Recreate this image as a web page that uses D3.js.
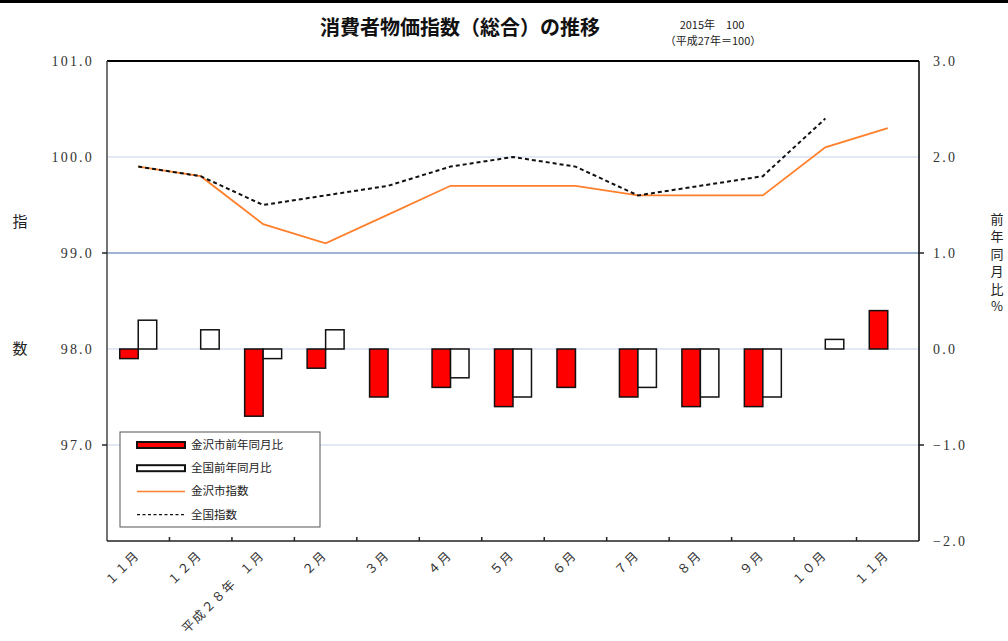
<!DOCTYPE html>
<html>
<head>
<meta charset="utf-8">
<script src="https://cdn.jsdelivr.net/npm/d3@7"></script>
<style>
  body { margin: 0; background: #fff; }
  svg { display: block; }
</style>
</head>
<body>
<svg id="viz"></svg>
<script>
/* Data */

const categories = ["１１月", "１２月", "１月", "２月", "３月", "４月", "５月", "６月", "７月", "８月", "９月", "１０月", "１１月"];
const yearLabels = ["", "", "平成２８年", "", "", "", "", "", "", "", "", "", ""];

const kanazawaIndex = [99.9, 99.8, 99.3, 99.1, 99.4, 99.7, 99.7, 99.7, 99.6, 99.6, 99.6, 100.1, 100.3];
const nationalIndex = [99.9, 99.8, 99.5, 99.6, 99.7, 99.9, 100.0, 99.9, 99.6, 99.7, 99.8, 100.4, null];

const kanazawaYoY = [-0.1, 0.0, -0.7, -0.2, -0.5, -0.4, -0.6, -0.4, -0.5, -0.6, -0.6, 0.0, 0.4];
const nationalYoY = [0.3, 0.2, -0.1, 0.2, 0.0, -0.3, -0.5, 0.0, -0.4, -0.5, -0.5, 0.1, null];

const leftTicks = [101, 100, 99, 98, 97];
const rightTicks = [3, 2, 1, 0, -1, -2];

const seriesNames = ["金沢市前年同月比", "全国前年同月比", "金沢市指数", "全国指数"];

/* Environment */

const width = 1008;
const height = 641;
const plot = {left: 107, right: 919, top: 61, bottom: 541};

const jp = "'Noto Sans CJK JP', 'Noto Sans', sans-serif";
const num = "'Liberation Serif', 'DejaVu Serif', serif";

const svg = d3.select('#viz')
    .attr('width', width)
    .attr('height', height);

/* Scales */

let x = d3.scaleBand()
    .domain(d3.range(categories.length))
    .range([plot.left, plot.right])
    .padding(0);

let yL = d3.scaleLinear().domain([96, 101]).range([plot.bottom, plot.top]);
let yR = d3.scaleLinear().domain([-2, 3]).range([plot.bottom, plot.top]);

const cx = i => x(i) + x.bandwidth() / 2;
const barW = x.bandwidth() * 0.296;

/* Layers */

let gGrid = svg.append("g");
let gBars = svg.append("g");
let gLines = svg.append("g");
let gFrame = svg.append("g");
let gAxes = svg.append("g");
let gLegend = svg.append("g");
let gText = svg.append("g");

/* Top border */

svg.append("line")
    .attr("x1", 0).attr("x2", width)
    .attr("y1", 1.5).attr("y2", 1.5)
    .attr("stroke", "#000").attr("stroke-width", 3);

/* Grid */

gGrid.selectAll("line")
    .data([100, 99, 98, 97])
    .enter().append("line")
    .attr("x1", plot.left).attr("x2", plot.right)
    .attr("y1", d => yL(d)).attr("y2", d => yL(d))
    .attr("stroke", d => d === 99 ? "#9fb3d3" : "#c6d4ec")
    .attr("stroke-width", d => d === 99 ? 2 : 1.2);

/* Bars */

function drawBars(values, offset, fill) {
  gBars.append("g")
      .selectAll("rect")
      .data(values.map((v, i) => ({v, i})).filter(d => d.v !== null && d.v !== 0))
      .enter().append("rect")
      .attr("x", d => cx(d.i) + offset)
      .attr("width", barW)
      .attr("y", d => Math.min(yR(d.v), yR(0)))
      .attr("height", d => Math.abs(yR(d.v) - yR(0)))
      .attr("fill", fill)
      .attr("stroke", "#111")
      .attr("stroke-width", 1.5);
}

drawBars(kanazawaYoY, -barW, "#ff0000");
drawBars(nationalYoY, 0, "#ffffff");

/* Lines */

let line = d3.line()
    .defined(d => d.v !== null)
    .x(d => cx(d.i))
    .y(d => yL(d.v));

gLines.append("path")
    .attr("d", line(kanazawaIndex.map((v, i) => ({v, i}))))
    .attr("fill", "none")
    .attr("stroke", "#ff7f2a")
    .attr("stroke-width", 1.8);

gLines.append("path")
    .attr("d", line(nationalIndex.map((v, i) => ({v, i}))))
    .attr("fill", "none")
    .attr("stroke", "#111")
    .attr("stroke-width", 2)
    .attr("stroke-dasharray", "4,3");

/* Frame */

gFrame.append("line")
    .attr("x1", plot.left).attr("x2", plot.right)
    .attr("y1", plot.top).attr("y2", plot.top)
    .attr("stroke", "#000").attr("stroke-width", 2);
gFrame.append("line")
    .attr("x1", plot.right).attr("x2", plot.right)
    .attr("y1", plot.top).attr("y2", plot.bottom)
    .attr("stroke", "#000").attr("stroke-width", 1.5);
gFrame.append("line")
    .attr("x1", plot.left).attr("x2", plot.left)
    .attr("y1", plot.top).attr("y2", plot.bottom)
    .attr("stroke", "#444").attr("stroke-width", 1.5);
gFrame.append("line")
    .attr("x1", plot.left).attr("x2", plot.right)
    .attr("y1", plot.bottom).attr("y2", plot.bottom)
    .attr("stroke", "#222").attr("stroke-width", 1.5);

/* Axes */

const gLeft = gAxes.append("g")
    .attr("transform", `translate(${plot.left},0)`)
    .call(d3.axisLeft(yL).tickValues(leftTicks).tickFormat(d3.format(".1f")).tickSize(0).tickPadding(13))
    .call(g => g.select(".domain").remove());

gLeft.selectAll("text")
    .attr("font-family", num).attr("font-size", 14)
    .attr("letter-spacing", 2.2).attr("fill", "#333");

gAxes.append("g")
    .selectAll("line")
    .data([99, 97])
    .enter().append("line")
    .attr("x1", plot.left - 5).attr("x2", plot.left)
    .attr("y1", d => yL(d)).attr("y2", d => yL(d))
    .attr("stroke", "#222").attr("stroke-width", 1.5);

const gRight = gAxes.append("g")
    .attr("transform", `translate(${plot.right},0)`)
    .call(d3.axisRight(yR).tickValues(rightTicks).tickFormat(d3.format(".1f")).tickSize(0).tickPadding(14))
    .call(g => g.select(".domain").remove());

gRight.selectAll("text")
    .attr("font-family", num).attr("font-size", 14)
    .attr("letter-spacing", 2.2).attr("fill", "#333");

gAxes.append("g")
    .selectAll("line")
    .data([1, -1])
    .enter().append("line")
    .attr("x1", plot.right).attr("x2", plot.right + 5)
    .attr("y1", d => yR(d)).attr("y2", d => yR(d))
    .attr("stroke", "#222").attr("stroke-width", 1.5);

// category ticks point up into the plot
gAxes.append("g")
    .selectAll("line")
    .data(d3.range(1, categories.length))
    .enter().append("line")
    .attr("x1", d => x(d)).attr("x2", d => x(d))
    .attr("y1", plot.bottom - 4).attr("y2", plot.bottom)
    .attr("stroke", "#222").attr("stroke-width", 1.5);

const gX = gAxes.append("g")
    .selectAll("g")
    .data(categories)
    .enter().append("g")
    .attr("transform", (d, i) => `translate(${cx(i) + 2},${plot.bottom + 15}) rotate(-45)`)
    .attr("font-family", jp)
    .attr("font-size", 12.5)
    .attr("letter-spacing", 1.5)
    .attr("fill", "#333");

gX.append("text")
    .attr("text-anchor", "end")
    .text(d => d);

gX.append("text")
    .attr("text-anchor", "end")
    .attr("x", -40)
    .text((d, i) => yearLabels[i]);

/* Legend */

gLegend.append("rect")
    .attr("x", 120).attr("y", 432)
    .attr("width", 200).attr("height", 95)
    .attr("fill", "#fff")
    .attr("stroke", "#555").attr("stroke-width", 1);

const rows = gLegend.selectAll("g.row")
    .data(seriesNames)
    .enter().append("g")
    .attr("class", "row")
    .attr("transform", (d, i) => `translate(137,${445 + i * 23.2})`);

rows.filter((d, i) => i < 2).append("rect")
    .attr("x", 0).attr("y", -3)
    .attr("width", 48).attr("height", 6)
    .attr("fill", (d, i) => i === 0 ? "#ff0000" : "#fff")
    .attr("stroke", "#111").attr("stroke-width", 2);

rows.filter((d, i) => i === 2).append("line")
    .attr("x1", 0).attr("x2", 48)
    .attr("stroke", "#ff7f2a").attr("stroke-width", 1.5);

rows.filter((d, i) => i === 3).append("line")
    .attr("x1", 0).attr("x2", 48)
    .attr("stroke", "#111").attr("stroke-width", 1.2)
    .attr("stroke-dasharray", "3,2.5");

rows.append("text")
    .attr("x", 54)
    .attr("dy", "0.35em")
    .attr("font-family", jp)
    .attr("font-size", 11.5)
    .attr("fill", "#222")
    .text(d => d);

/* Titles */

gText.append("text")
    .attr("x", 460).attr("y", 35)
    .attr("text-anchor", "middle")
    .attr("font-family", jp)
    .attr("font-weight", "bold")
    .attr("font-size", 20)
    .attr("fill", "#111")
    .text("消費者物価指数（総合）の推移");

gText.append("text")
    .attr("x", 712).attr("y", 29)
    .attr("text-anchor", "middle")
    .attr("font-family", jp)
    .attr("font-size", 11)
    .attr("fill", "#222")
    .text("2015年　100");

gText.append("text")
    .attr("x", 713).attr("y", 45)
    .attr("text-anchor", "middle")
    .attr("font-family", jp)
    .attr("font-size", 11)
    .attr("fill", "#222")
    .text("（平成27年＝100）");

gText.selectAll("text.yl")
    .data([["指", 222], ["数", 349]])
    .enter().append("text")
    .attr("class", "yl")
    .attr("x", 20).attr("y", d => d[1])
    .attr("text-anchor", "middle")
    .attr("dy", "0.35em")
    .attr("font-family", jp)
    .attr("font-size", 15)
    .attr("fill", "#222")
    .text(d => d[0]);

gText.selectAll("text.yr")
    .data(Array.from("前年同月比%"))
    .enter().append("text")
    .attr("class", "yr")
    .attr("x", 997).attr("y", (d, i) => 219 + i * 17.5)
    .attr("text-anchor", "middle")
    .attr("dy", "0.35em")
    .attr("font-family", jp)
    .attr("font-size", 13)
    .attr("fill", "#222")
    .text(d => d);
</script>
</body>
</html>
